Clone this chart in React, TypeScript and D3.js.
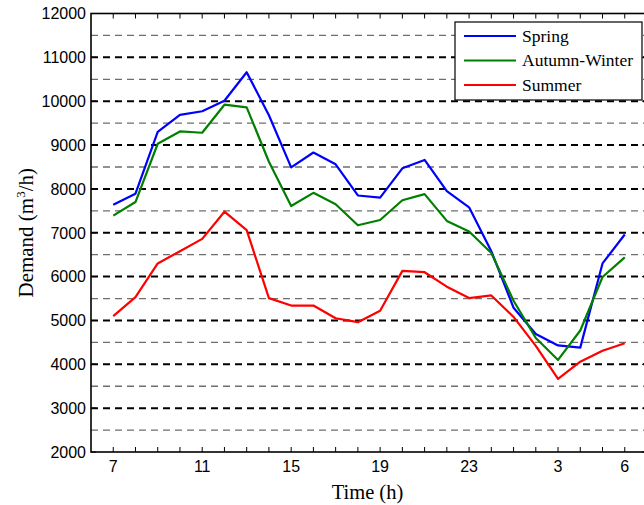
import React from "react";
import * as d3 from "d3";

// Hour of day for each sample (7 h through 6 h next morning)
const hours = [7, 8, 9, 10, 11, 12, 13, 14, 15, 16, 17, 18, 19, 20, 21, 22, 23, 0, 1, 2, 3, 4, 5, 6];
const tickHours = [7, 11, 15, 19, 23, 3, 6];

// Water demand (m³/h) per season
const spring = [7640, 7890, 9300, 9690, 9770, 10010, 10660, 9680, 8490, 8830, 8560, 7850, 7800, 8470, 8660, 7950, 7580, 6580, 5290, 4690, 4430, 4380, 6300, 6960];
const autumnWinter = [7390, 7700, 9030, 9310, 9280, 9920, 9860, 8620, 7610, 7910, 7650, 7170, 7290, 7740, 7880, 7270, 7030, 6540, 5450, 4600, 4100, 4770, 5990, 6440];
const summer = [5100, 5530, 6300, 6580, 6860, 7480, 7060, 5510, 5340, 5340, 5050, 4960, 5220, 6130, 6100, 5770, 5510, 5570, 5080, 4420, 3670, 4060, 4310, 4480];

const seriesNames = ["Spring", "Autumn-Winter", "Summer"];
const seriesColors = ["#0000ff", "#008000", "#ff0000"];
const seriesValues = [spring, autumnWinter, summer];

const yMajor = d3.range(2000, 12001, 1000);
const yMinor = d3.range(2500, 12000, 1000);

const W = 644;
const H = 505;
const left = 91;
const right = 647;
const top = 13.5;
const bottom = 452;

export default function App() {
  const x = d3.scaleLinear().domain([-1, 24]).range([left, right]);
  const y = d3.scaleLinear().domain([2000, 12000]).range([bottom, top]);
  const line = d3
    .line<number>()
    .x((_, i) => x(i))
    .y((v) => y(v));

  const serif = "'Liberation Serif', 'Times New Roman', serif";
  const sans = "'Liberation Sans', Arial, sans-serif";

  return (
    <svg
      width={W}
      height={H}
      style={{ position: "absolute", left: 0, top: 0, background: "#fff" }}
    >
      <defs>
        <clipPath id="plot">
          <rect x={left} y={top} width={right - left} height={bottom - top} />
        </clipPath>
      </defs>

      {/* dashed grid */}
      {yMinor.map((v) => (
        <line
          key={"mi" + v}
          x1={left}
          x2={right}
          y1={y(v)}
          y2={y(v)}
          stroke="#6e6e6e"
          strokeWidth={1.3}
          strokeDasharray="7 5"
        />
      ))}
      {yMajor
        .filter((v) => v > 2000 && v < 12000)
        .map((v) => (
          <line
            key={"ma" + v}
            x1={left}
            x2={right}
            y1={y(v)}
            y2={y(v)}
            stroke="#000"
            strokeWidth={2}
            strokeDasharray="7 5"
          />
        ))}

      {/* series */}
      <g clipPath="url(#plot)">
        {seriesValues.map((vals, k) => (
          <path
            key={seriesNames[k]}
            d={line(vals) || ""}
            fill="none"
            stroke={seriesColors[k]}
            strokeWidth={2.2}
            strokeLinejoin="round"
          />
        ))}
      </g>

      {/* hour ticks, bottom and top */}
      {hours.map((h, i) => (
        <g key={"t" + i}>
          <line x1={x(i)} x2={x(i)} y1={bottom} y2={bottom - 5} stroke="#000" strokeWidth={1} />
          <line x1={x(i)} x2={x(i)} y1={top} y2={top + 5} stroke="#000" strokeWidth={1} />
        </g>
      ))}
      {/* value ticks, left and right */}
      {yMajor.map((v) => (
        <g key={"yt" + v}>
          <line x1={left} x2={left + 5} y1={y(v)} y2={y(v)} stroke="#000" strokeWidth={1} />
          <line x1={right} x2={right - 5} y1={y(v)} y2={y(v)} stroke="#000" strokeWidth={1} />
        </g>
      ))}

      {/* frame */}
      <rect
        x={left}
        y={top}
        width={right - left}
        height={bottom - top}
        fill="none"
        stroke="#000"
        strokeWidth={1.6}
      />

      {/* tick labels */}
      {yMajor.map((v) => (
        <text
          key={"yl" + v}
          x={left - 5}
          y={y(v)}
          dy="0.36em"
          textAnchor="end"
          fontFamily={sans}
          fontSize={16}
          fill="#000"
        >
          {v}
        </text>
      ))}
      {hours.map((h, i) =>
        tickHours.includes(h) ? (
          <text
            key={"xl" + i}
            x={x(i)}
            y={bottom + 20}
            textAnchor="middle"
            fontFamily={sans}
            fontSize={16}
            fill="#000"
          >
            {h}
          </text>
        ) : null
      )}

      {/* axis titles */}
      <text
        x={(left + 646) / 2 - 1}
        y={499}
        textAnchor="middle"
        fontFamily={serif}
        fontSize={20.5}
        fill="#000"
      >
        Time (h)
      </text>
      <text
        transform={`translate(33, ${(top + bottom) / 2}) rotate(-90)`}
        textAnchor="middle"
        fontFamily={serif}
        fontSize={21}
        fill="#000"
      >
        Demand (m
        <tspan fontSize={13} dy={-8}>
          3
        </tspan>
        <tspan dy={8}>/h)</tspan>
      </text>

      {/* legend */}
      <g>
        <rect x={455} y={22} width={187} height={78} fill="#fff" stroke="#000" strokeWidth={1.2} />
        {seriesNames.map((name, k) => {
          const ly = 36 + k * 24.5;
          return (
            <g key={"lg" + name}>
              <line x1={464} x2={516} y1={ly} y2={ly} stroke={seriesColors[k]} strokeWidth={2.2} />
              <text
                x={522}
                y={ly}
                dy="0.32em"
                fontFamily={serif}
                fontSize={17.5}
                fill="#000"
              >
                {name}
              </text>
            </g>
          );
        })}
      </g>
    </svg>
  );
}
